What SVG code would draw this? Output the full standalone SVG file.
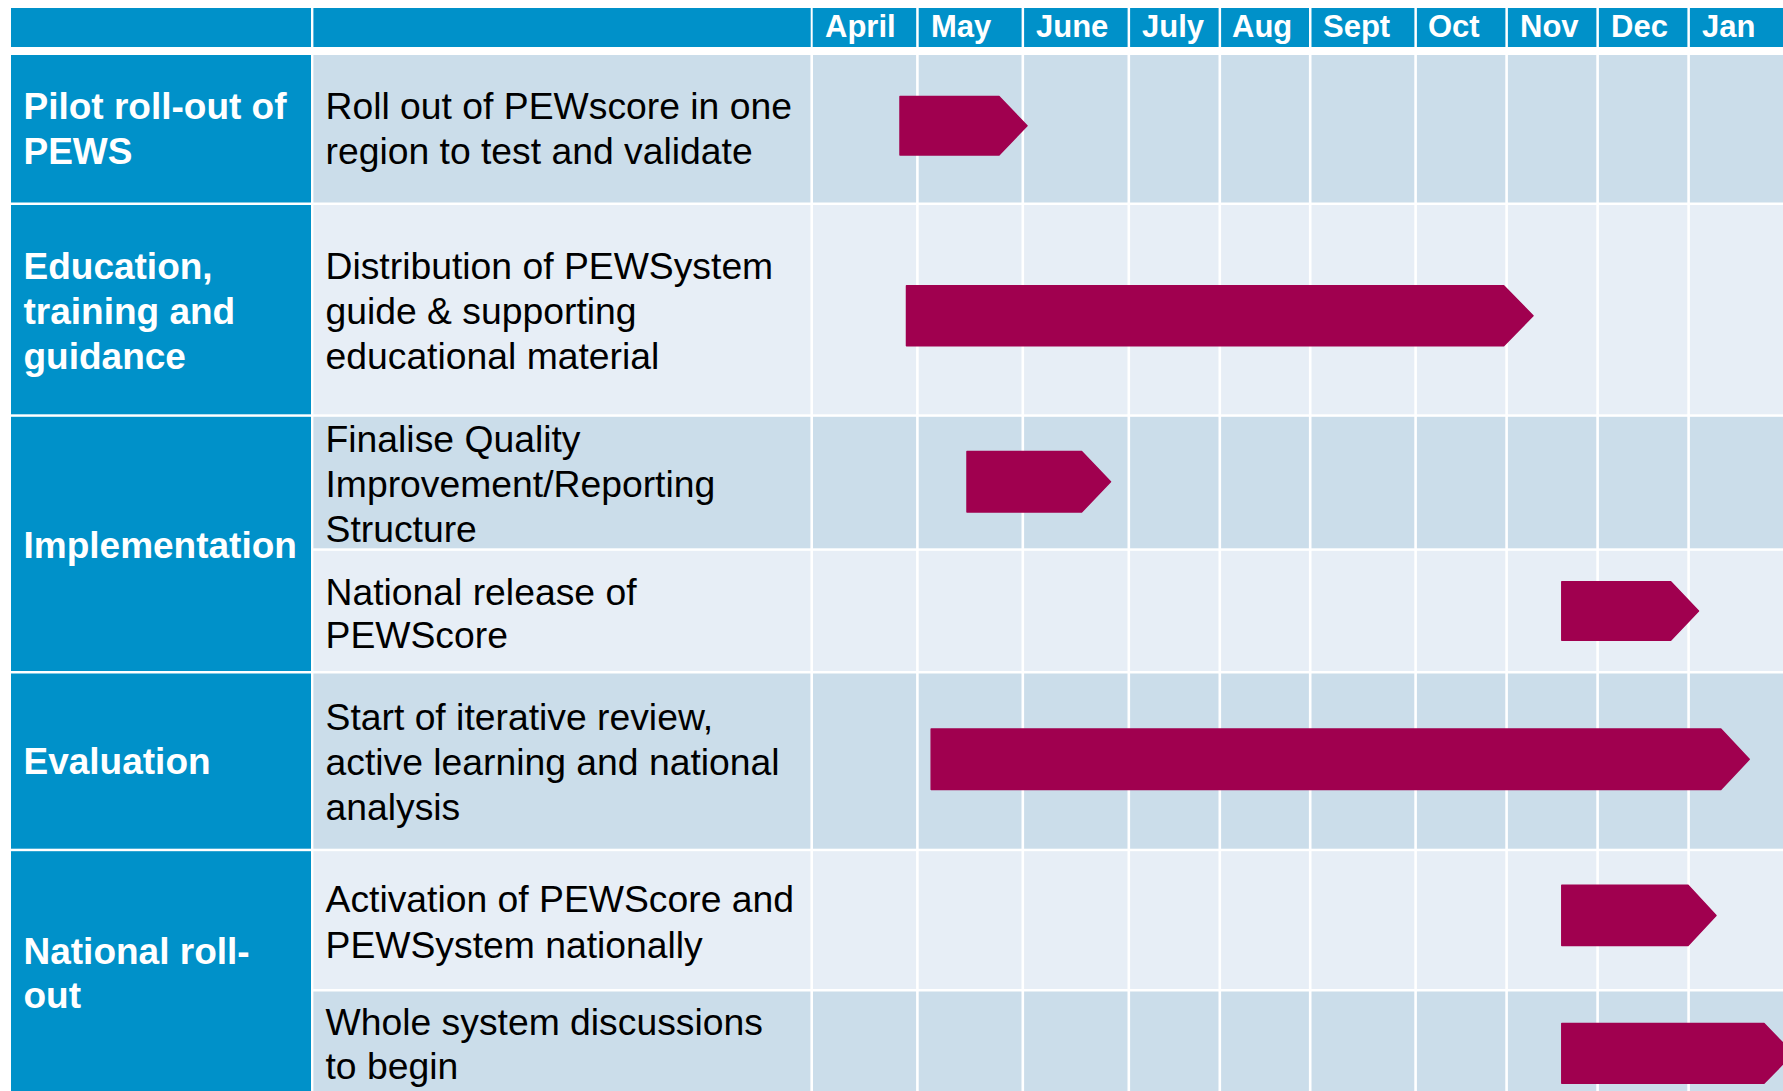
<svg xmlns="http://www.w3.org/2000/svg" width="1783" height="1091" viewBox="0 0 1783 1091">
<style>
.blue{fill:#0091C9}
.dark{fill:#CBDDEA}
.light{fill:#E7EEF6}
.bar{fill:#A0004F;stroke:#A0004F;stroke-width:1.5;stroke-linejoin:round}
.vl{stroke:#FFFFFF;stroke-width:2.6}
.mon{font-family:"Liberation Sans",Arial,sans-serif;font-weight:bold;font-size:31px;fill:#FFFFFF}
.ph{font-family:"Liberation Sans",Arial,sans-serif;font-weight:bold;font-size:37px;fill:#FFFFFF}
.tk{font-family:"Liberation Sans",Arial,sans-serif;font-size:37.3px;fill:#000000}
</style>
<rect width="1783" height="1091" fill="#FFFFFF"/>

<g id="grid">
  <rect class="dark" x="313.4" y="55" width="1470" height="147.5"/>
  <rect class="light" x="313.4" y="205" width="1470" height="209.3"/>
  <rect class="dark" x="313.4" y="416.8" width="1470" height="131.5"/>
  <rect class="light" x="313.4" y="550.8" width="1470" height="120.2"/>
  <rect class="dark" x="313.4" y="673.5" width="1470" height="175.2"/>
  <rect class="light" x="313.4" y="851.2" width="1470" height="137.8"/>
  <rect class="dark" x="313.4" y="991.5" width="1470" height="99.5"/>
  <g>
    <line class="vl" x1="811.7" y1="0" x2="811.7" y2="1091"/>
    <line class="vl" x1="917.4" y1="0" x2="917.4" y2="1091"/>
    <line class="vl" x1="1022.8" y1="0" x2="1022.8" y2="1091"/>
    <line class="vl" x1="1128.8" y1="0" x2="1128.8" y2="1091"/>
    <line class="vl" x1="1219.8" y1="0" x2="1219.8" y2="1091"/>
    <line class="vl" x1="1310.2" y1="0" x2="1310.2" y2="1091"/>
    <line class="vl" x1="1415.6" y1="0" x2="1415.6" y2="1091"/>
    <line class="vl" x1="1506.6" y1="0" x2="1506.6" y2="1091"/>
    <line class="vl" x1="1597.6" y1="0" x2="1597.6" y2="1091"/>
    <line class="vl" x1="1688.6" y1="0" x2="1688.6" y2="1091"/>
  </g>
</g>

<g id="header">
  <rect class="blue" x="11" y="8" width="300" height="39"/>
  <rect class="blue" x="313.4" y="8" width="497.3" height="39"/>
  <rect class="blue" x="812.7" y="8" width="103.5" height="39"/>
  <rect class="blue" x="918.7" y="8" width="102.9" height="39"/>
  <rect class="blue" x="1024.1" y="8" width="103.5" height="39"/>
  <rect class="blue" x="1130.1" y="8" width="88.5" height="39"/>
  <rect class="blue" x="1221.1" y="8" width="87.9" height="39"/>
  <rect class="blue" x="1311.5" y="8" width="102.9" height="39"/>
  <rect class="blue" x="1416.9" y="8" width="88.5" height="39"/>
  <rect class="blue" x="1507.9" y="8" width="88.5" height="39"/>
  <rect class="blue" x="1598.9" y="8" width="88.5" height="39"/>
  <rect class="blue" x="1689.9" y="8" width="93.1" height="39"/>
  <text class="mon" x="825" y="37">April</text>
  <text class="mon" x="931" y="37">May</text>
  <text class="mon" x="1036" y="37">June</text>
  <text class="mon" x="1142" y="37">July</text>
  <text class="mon" x="1232" y="37">Aug</text>
  <text class="mon" x="1323" y="37">Sept</text>
  <text class="mon" x="1428" y="37">Oct</text>
  <text class="mon" x="1520" y="37">Nov</text>
  <text class="mon" x="1611" y="37">Dec</text>
  <text class="mon" x="1702" y="37">Jan</text>
</g>

<g id="phase-pilot">
  <rect class="blue" x="11" y="55" width="300" height="147.5"/>
  <text class="ph" x="23.5" y="118.5">Pilot roll-out of</text>
  <text class="ph" x="23.5" y="163.5">PEWS</text>
</g>
<g id="phase-education">
  <rect class="blue" x="11" y="205" width="300" height="209.3"/>
  <text class="ph" x="23.5" y="278.5">Education,</text>
  <text class="ph" x="23.5" y="323.5">training and</text>
  <text class="ph" x="23.5" y="368.5">guidance</text>
</g>
<g id="phase-implementation">
  <rect class="blue" x="11" y="416.8" width="300" height="254.2"/>
  <text class="ph" x="23.5" y="557.5">Implementation</text>
</g>
<g id="phase-evaluation">
  <rect class="blue" x="11" y="673.5" width="300" height="175.2"/>
  <text class="ph" x="23.5" y="774">Evaluation</text>
</g>
<g id="phase-national">
  <rect class="blue" x="11" y="851.2" width="300" height="239.8"/>
  <text class="ph" x="23.5" y="964">National roll-</text>
  <text class="ph" x="23.5" y="1008">out</text>
</g>

<g id="task-pilot">
  <text class="tk" x="325.5" y="118.5">Roll out of PEWscore in one</text>
  <text class="tk" x="325.5" y="163.5">region to test and validate</text>
</g>
<g id="task-distribution">
  <text class="tk" x="325.5" y="278.5">Distribution of PEWSystem</text>
  <text class="tk" x="325.5" y="323.5">guide &amp; supporting</text>
  <text class="tk" x="325.5" y="368.5">educational material</text>
</g>
<g id="task-finalise">
  <text class="tk" x="325.5" y="452">Finalise Quality</text>
  <text class="tk" x="325.5" y="497">Improvement/Reporting</text>
  <text class="tk" x="325.5" y="542">Structure</text>
</g>
<g id="task-release">
  <text class="tk" x="325.5" y="604.5">National release of</text>
  <text class="tk" x="325.5" y="648">PEWScore</text>
</g>
<g id="task-review">
  <text class="tk" x="325.5" y="730">Start of iterative review,</text>
  <text class="tk" x="325.5" y="774.5">active learning and national</text>
  <text class="tk" x="325.5" y="819.5">analysis</text>
</g>
<g id="task-activation">
  <text class="tk" x="325.5" y="912">Activation of PEWScore and</text>
  <text class="tk" x="325.5" y="957.5">PEWSystem nationally</text>
</g>
<g id="task-whole">
  <text class="tk" x="325.5" y="1035">Whole system discussions</text>
  <text class="tk" x="325.5" y="1079">to begin</text>
</g>

<g id="bars">
  <polygon class="bar" points="900,96.5 999,96.5 1027,125.7 999,155 900,155"/>
  <polygon class="bar" points="906.5,285.7 1503.7,285.7 1533,315.8 1503.7,345.8 906.5,345.8"/>
  <polygon class="bar" points="967,451.6 1081.6,451.6 1110.5,481.8 1081.6,512 967,512"/>
  <polygon class="bar" points="1561.8,581.8 1670.7,581.8 1698.5,611 1670.7,640.3 1561.8,640.3"/>
  <polygon class="bar" points="931.2,729 1720.8,729 1749.2,759.3 1720.8,789.5 931.2,789.5"/>
  <polygon class="bar" points="1561.8,885.3 1688,885.3 1716,915.4 1688,945.5 1561.8,945.5"/>
  <polygon class="bar" points="1561.8,1023.5 1764,1023.5 1793,1053.5 1764,1083.3 1561.8,1083.3"/>
</g>
</svg>
